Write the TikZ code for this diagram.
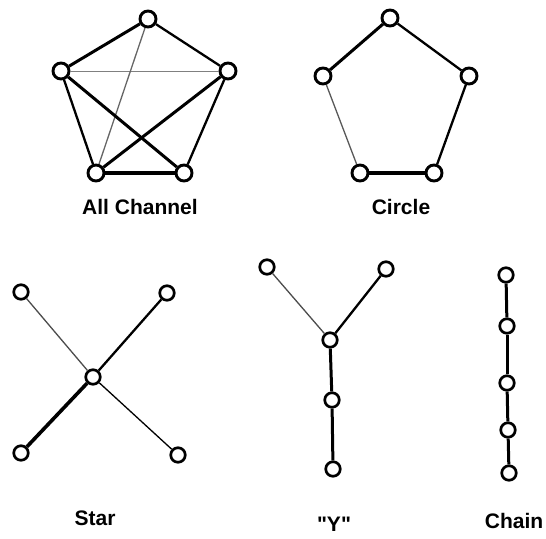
\documentclass[tikz,border=0pt]{standalone}
\usepackage{fontspec}
\setmainfont{Liberation Sans}[Ligatures=TeXOff]
\begin{document}
\begin{tikzpicture}[x=1pt,y=-1pt,
  nd/.style={circle,draw=black,fill=white,line width=2.9pt,minimum size=16pt,inner sep=0pt},
  sn/.style={circle,draw=black,fill=white,line width=2.7pt,minimum size=14.5pt,inner sep=0pt},
  lbl/.style={font=\fontsize{21}{24}\selectfont\bfseries,inner sep=0pt},
  thick3/.style={line width=3.6pt},
  thick2/.style={line width=3.0pt},
  med/.style={line width=2.3pt},
  thin1/.style={line width=1.3pt},
  hair/.style={line width=0.7pt,black!50}]
\useasboundingbox (0,0) rectangle (546,538);
\fill[white] (0,0) rectangle (546,538);
% All Channel
\node[nd] (a1) at (148,19) {};
\node[nd] (a2) at (61,71) {};
\node[nd] (a3) at (228,71) {};
\node[nd] (a4) at (96,173) {};
\node[nd] (a5) at (184,173) {};
\draw[thick2] (a1) -- (a2);
\draw[med] (a1) -- (a3);
\draw[hair] (a2) -- (a3);
\draw[thin1,black!60] (a1) -- (a4);
\draw[med] (a2) -- (a4);
\draw[thick2] (a2) -- (a5);
\draw[thick2] (a3) -- (a4);
\draw[med] (a3) -- (a5);
\draw[thick3] (a4) -- (a5);
\node[lbl] (la) at (140,207) {All Channel};
% Circle
\node[nd] (c1) at (390,18) {};
\node[nd] (c2) at (323,76) {};
\node[nd] (c3) at (469,76) {};
\node[nd] (c4) at (360,173) {};
\node[nd] (c5) at (434,173) {};
\draw[thick2] (c1) -- (c2);
\draw[med] (c1) -- (c3);
\draw[thin1,black!65] (c2) -- (c4);
\draw[med] (c3) -- (c5);
\draw[thick3] (c4) -- (c5);
\node[lbl] (lc) at (401,207) {Circle};
% Star
\node[sn] (s0) at (93,377) {};
\node[sn] (s1) at (21,292) {};
\node[sn] (s2) at (167,293) {};
\node[sn] (s3) at (21,453) {};
\node[sn] (s4) at (178,455) {};
\draw[thin1,black!70] (s0) -- (s1);
\draw[med] (s0) -- (s2);
\draw[thick3] (s0) -- (s3);
\draw[thin1] (s0) -- (s4);
\node[lbl] (ls) at (95,518) {Star};
% Y
\node[sn] (y1) at (267,267) {};
\node[sn] (y2) at (386,269) {};
\node[sn] (y0) at (330,340) {};
\node[sn] (ym) at (332,400) {};
\node[sn] (yb) at (333,469) {};
\draw[thin1,black!70] (y0) -- (y1);
\draw[med] (y0) -- (y2);
\draw[thick2] (y0) -- (ym);
\draw[thick2] (ym) -- (yb);
\node[lbl] (ly) at (334,524) {"Y"};
% Chain
\node[sn] (k1) at (506,275) {};
\node[sn] (k2) at (507,326) {};
\node[sn] (k3) at (507,383) {};
\node[sn] (k4) at (508,430) {};
\node[sn] (k5) at (509,473) {};
\draw[thick2] (k1) -- (k2);
\draw[thick2] (k2) -- (k3);
\draw[thick2] (k3) -- (k4);
\draw[thick2] (k4) -- (k5);
\node[lbl] (lk) at (514,521) {Chain};
\end{tikzpicture}
\end{document}
